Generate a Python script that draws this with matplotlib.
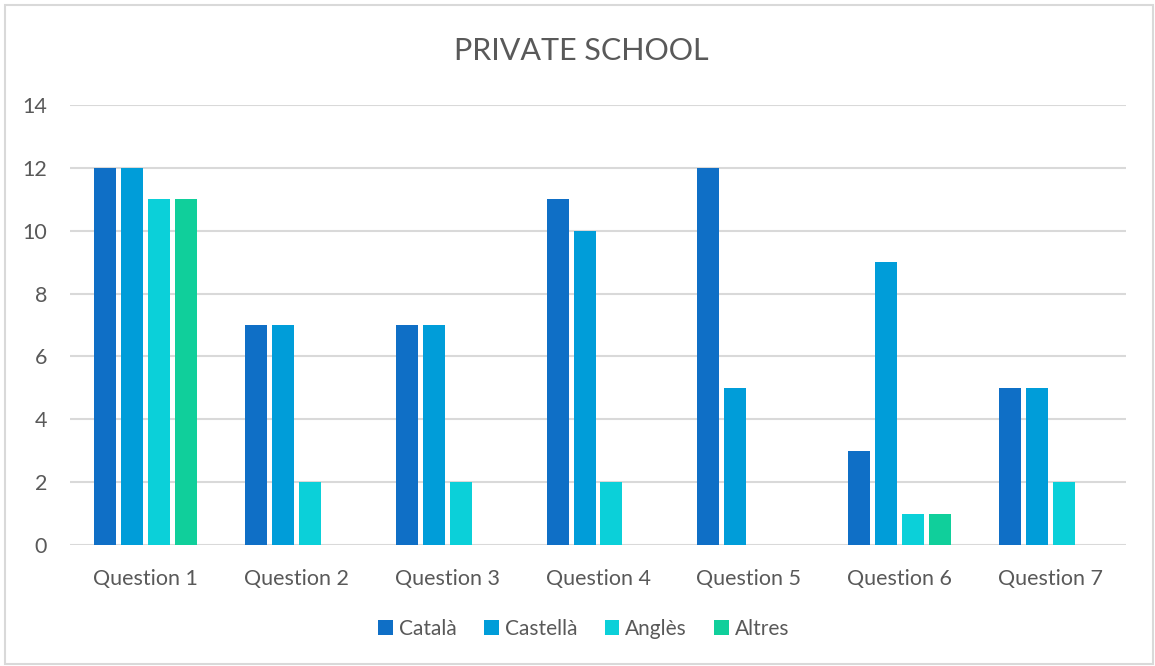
import matplotlib
matplotlib.use("Agg")
from matplotlib import pyplot as plt
from matplotlib.patches import Rectangle
import numpy as np

# dades
questions = ["Question 1", "Question 2", "Question 3", "Question 4",
             "Question 5", "Question 6", "Question 7"]
series = ["Català", "Castellà", "Anglès", "Altres"]
catala = [12, 7, 7, 11, 12, 3, 5]
castella = [12, 7, 7, 10, 5, 9, 5]
angles = [11, 2, 2, 2, 0, 1, 2]
altres = [11, 0, 0, 0, 0, 1, 0]
colors = ["#0F6FC6", "#009DD9", "#0BD0D9", "#10CF9B"]

plt.rcParams['font.family'] = ['Lato', 'DejaVu Sans']
txt = "#595959"

fig = plt.figure(figsize=(11.55, 6.66), dpi=100)
ax = fig.add_axes([70 / 1155, 1 - 545 / 666, (1126 - 70) / 1155, (545 - 105) / 666])

x = np.arange(len(questions))
w = 22 / 151
step = 27 / 151
for i, (vals, c) in enumerate(zip([catala, castella, angles, altres], colors)):
    ax.bar(x + (i - 1.5) * step, vals, width=w, color=c, label=series[i], zorder=3)

ax.set_xlim(-0.5, len(questions) - 0.5)
ax.set_ylim(0, 14)
ax.set_yticks(range(0, 15, 2))
ax.set_xticks(x)
ax.set_xticklabels(questions)
ax.grid(axis='y', color="#D9D9D9", linewidth=1.5, zorder=0)
for s in ax.spines.values():
    s.set_visible(False)
ax.tick_params(length=0, labelsize=15.5, colors=txt)
ax.tick_params(axis='y', pad=16.5)
ax.tick_params(axis='x', pad=17)

fig.text(581 / 1155, 1 - 51 / 666, "PRIVATE SCHOOL", ha='center', va='center',
         fontsize=22, color=txt)

leg = fig.legend(loc='center', bbox_to_anchor=(584 / 1155, 1 - 629 / 666), ncol=4,
                 frameon=False, fontsize=15, labelcolor=txt, handlelength=0.7,
                 handleheight=0.7, handletextpad=0.3, columnspacing=1.3)

fig.patches.append(Rectangle((5 / 1155, 2 / 666), 1148 / 1155, 659 / 666,
                             transform=fig.transFigure, fill=False,
                             edgecolor="#D9D9D9", linewidth=1.5))

fig.savefig("out.png", dpi=100, facecolor="white")
